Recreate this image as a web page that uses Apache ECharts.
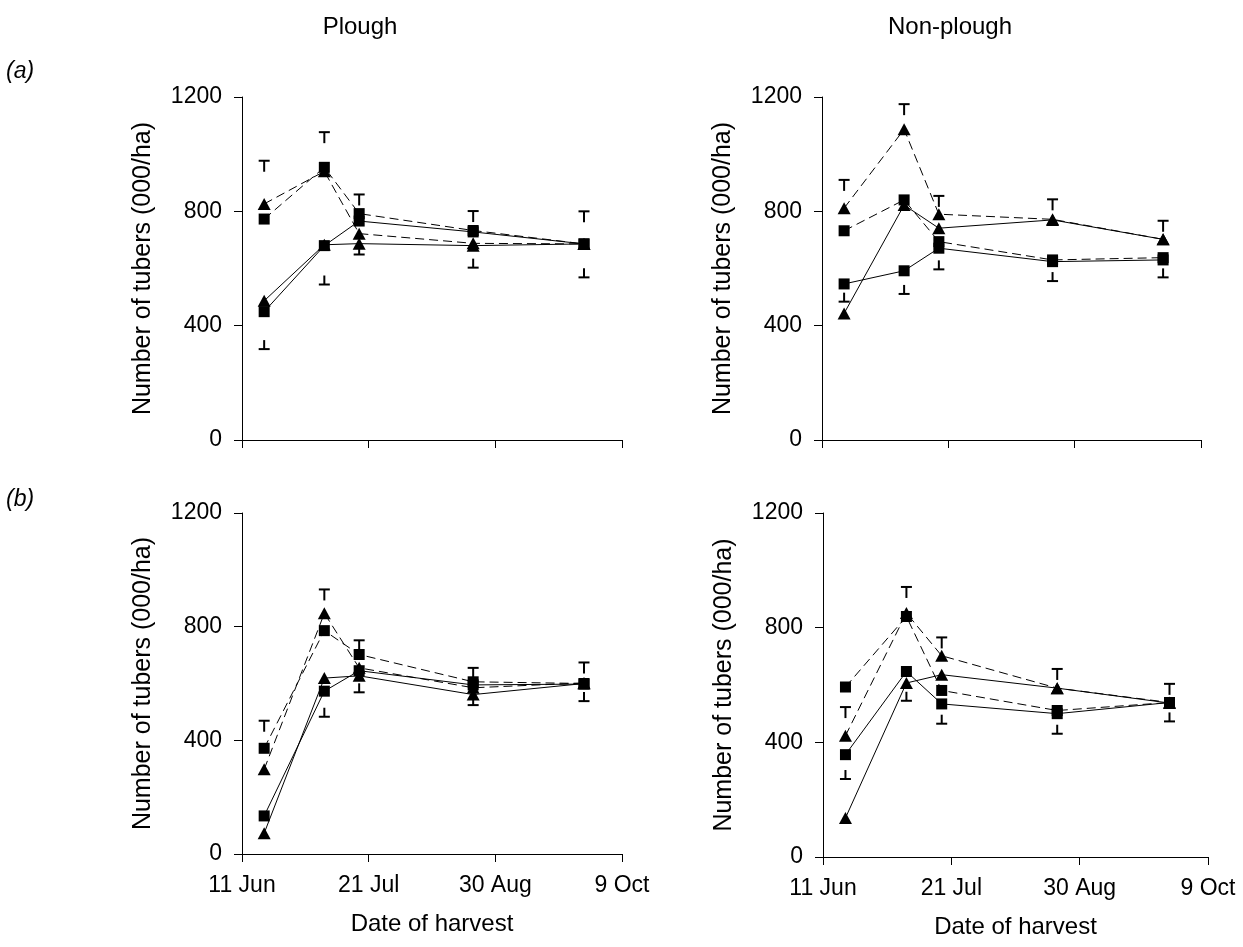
<!DOCTYPE html>
<html><head><meta charset="utf-8">
<script src="https://cdn.jsdelivr.net/npm/echarts@6/dist/echarts.min.js"></script>
<style>html,body{margin:0;padding:0;background:#fff}#c{width:1243px;height:947px}</style>
</head><body><div id="c"></div>
<script>
// Harvest dates as days after 11 Jun
const harvestDays = [7, 26, 37, 73, 108];
const xTickLabels = ['11 Jun', '21 Jul', '30 Aug', '9 Oct'];
const yTickValues = [0, 400, 800, 1200];

// (a) Plough
const aPlough_sqDash  = [773, 954, 792, 733, 686];
const aPlough_triDash = [826, 940, 722, 688, 686];
const aPlough_sqSolid = [449, 680, 766, 728, 686];
const aPlough_triSolid= [487, 683, 687, 680, 686];
const aPlough_errUp   = [977, 1077, 859, 801, 800];
const aPlough_errLo   = [318, 544, 649, 603, 569];

// (a) Non-plough
const aNon_sqDash  = [732, 840, 694, 630, 638];
const aNon_triDash = [811, 1087, 790, 772, 702];
const aNon_sqSolid = [546, 592, 671, 624, 630];
const aNon_triSolid= [443, 822, 741, 770, 702];
const aNon_errUp   = [910, 1175, 854, 842, 767];
const aNon_errLo   = [484, 511, 597, 556, 569];

// (b) Plough
const bPlough_sqDash  = [372, 786, 702, 606, 600];
const bPlough_triDash = [298, 847, 655, 585, 602];
const bPlough_sqSolid = [134, 573, 645, 595, 598];
const bPlough_triSolid= [73, 619, 627, 561, 600];
const bPlough_errUp   = [469, 931, 752, 655, 674];
const bPlough_errLo   = [null, 483, 569, 524, 538];

// (b) Non-plough
const bNon_sqDash  = [593, 839, 581, 511, 539];
const bNon_triDash = [423, 851, 702, 589, 539];
const bNon_sqSolid = [357, 647, 534, 500, 539];
const bNon_triSolid= [136, 607, 636, 589, 537];
const bNon_errUp   = [523, 942, 766, 656, 604];
const bNon_errLo   = [272, 545, 465, 430, 473];

const panels = [
  {sq: [aPlough_sqDash, aPlough_sqSolid], tri: [aPlough_triDash, aPlough_triSolid], up: aPlough_errUp, lo: aPlough_errLo,
   grid: {left: 242, top: 97, width: 380, height: 343}, showX: false},
  {sq: [aNon_sqDash, aNon_sqSolid], tri: [aNon_triDash, aNon_triSolid], up: aNon_errUp, lo: aNon_errLo,
   grid: {left: 822, top: 97, width: 379, height: 343}, showX: false},
  {sq: [bPlough_sqDash, bPlough_sqSolid], tri: [bPlough_triDash, bPlough_triSolid], up: bPlough_errUp, lo: bPlough_errLo,
   grid: {left: 242, top: 513, width: 380, height: 341}, showX: true},
  {sq: [bNon_sqDash, bNon_sqSolid], tri: [bNon_triDash, bNon_triSolid], up: bNon_errUp, lo: bNon_errLo,
   grid: {left: 823, top: 513, width: 385, height: 344}, showX: true}
];

const FONT = 'Liberation Sans, Arial, sans-serif';
const FS = 23;
const DASH = [9, 5];

function pairs(vals) {
  return harvestDays.map((d, i) => [d, vals[i]]).filter(p => p[1] != null);
}
function errRender(dir) {
  return function (params, api) {
    const p = api.coord([api.value(0), api.value(1)]);
    const half = 5.5, stem = dir > 0 ? 11 : 9;
    return {
      type: 'group', children: [
        {type: 'line', shape: {x1: p[0] - half, y1: p[1], x2: p[0] + half, y2: p[1]}, style: {stroke: '#000', lineWidth: 2}},
        {type: 'line', shape: {x1: p[0], y1: p[1], x2: p[0], y2: p[1] + dir * stem}, style: {stroke: '#000', lineWidth: 2}}
      ]
    };
  };
}

const grids = [], xAxes = [], yAxes = [], series = [];
panels.forEach((pn, i) => {
  grids.push(pn.grid);
  xAxes.push({
    gridIndex: i, type: 'value', min: 0, max: 120, interval: 40,
    name: pn.showX ? 'Date of harvest' : '', nameLocation: 'middle', nameGap: 58,
    nameTextStyle: {fontFamily: FONT, fontSize: 24, color: '#000'},
    axisLine: {lineStyle: {color: '#000', width: 1}},
    axisTick: {show: true, inside: false, length: 8, lineStyle: {color: '#000'}},
    axisLabel: {show: pn.showX, margin: 20, fontFamily: FONT, fontSize: FS, color: '#000',
      formatter: v => xTickLabels[Math.round(v / 40)]},
    splitLine: {show: false}
  });
  yAxes.push({
    gridIndex: i, type: 'value', min: yTickValues[0], max: yTickValues[yTickValues.length - 1], interval: 400,
    name: 'Number of tubers (000/ha)', nameLocation: 'middle', nameGap: 86,
    nameTextStyle: {fontFamily: FONT, fontSize: 25, color: '#000'},
    axisLine: {show: true, lineStyle: {color: '#000', width: 1}},
    axisTick: {show: true, inside: false, length: 8, lineStyle: {color: '#000'}},
    axisLabel: {margin: 20, fontFamily: FONT, fontSize: FS, color: '#000', formatter: v => String(v)},
    splitLine: {show: false}
  });
  const mk = (name, vals, symbol, size, dashed) => ({
    name, type: 'line', xAxisIndex: i, yAxisIndex: i, data: pairs(vals),
    symbol, symbolSize: size, showSymbol: true,
    lineStyle: {color: '#000', width: 1, type: dashed ? DASH : 'solid'},
    itemStyle: {color: '#000'}, z: 3, animation: false
  });
  series.push(mk('Square dashed', pn.sq[0], 'rect', 11, true));
  series.push(mk('Square solid', pn.sq[1], 'rect', 11, false));
  series.push(mk('Triangle dashed', pn.tri[0], 'triangle', [13, 12], true));
  series.push(mk('Triangle solid', pn.tri[1], 'triangle', [13, 12], false));
  series.push({type: 'custom', xAxisIndex: i, yAxisIndex: i, data: pairs(pn.up), renderItem: errRender(1), z: 4, animation: false});
  series.push({type: 'custom', xAxisIndex: i, yAxisIndex: i, data: pairs(pn.lo), renderItem: errRender(-1), z: 4, animation: false});
});

const chart = echarts.init(document.getElementById('c'), null, {renderer: 'canvas'});
chart.setOption({
  backgroundColor: '#fff',
  animation: false,
  grid: grids, xAxis: xAxes, yAxis: yAxes, series,
  graphic: [
    {type: 'text', x: 360, y: 27, style: {text: 'Plough', align: 'center', verticalAlign: 'middle', font: '24px ' + FONT, fill: '#000'}},
    {type: 'text', x: 950, y: 27, style: {text: 'Non-plough', align: 'center', verticalAlign: 'middle', font: '24px ' + FONT, fill: '#000'}},
    {type: 'text', x: 6, y: 72, style: {text: '(a)', align: 'left', verticalAlign: 'middle', font: 'italic 23px ' + FONT, fill: '#000'}},
    {type: 'text', x: 6, y: 500, style: {text: '(b)', align: 'left', verticalAlign: 'middle', font: 'italic 23px ' + FONT, fill: '#000'}}
  ]
});
</script></body></html>
